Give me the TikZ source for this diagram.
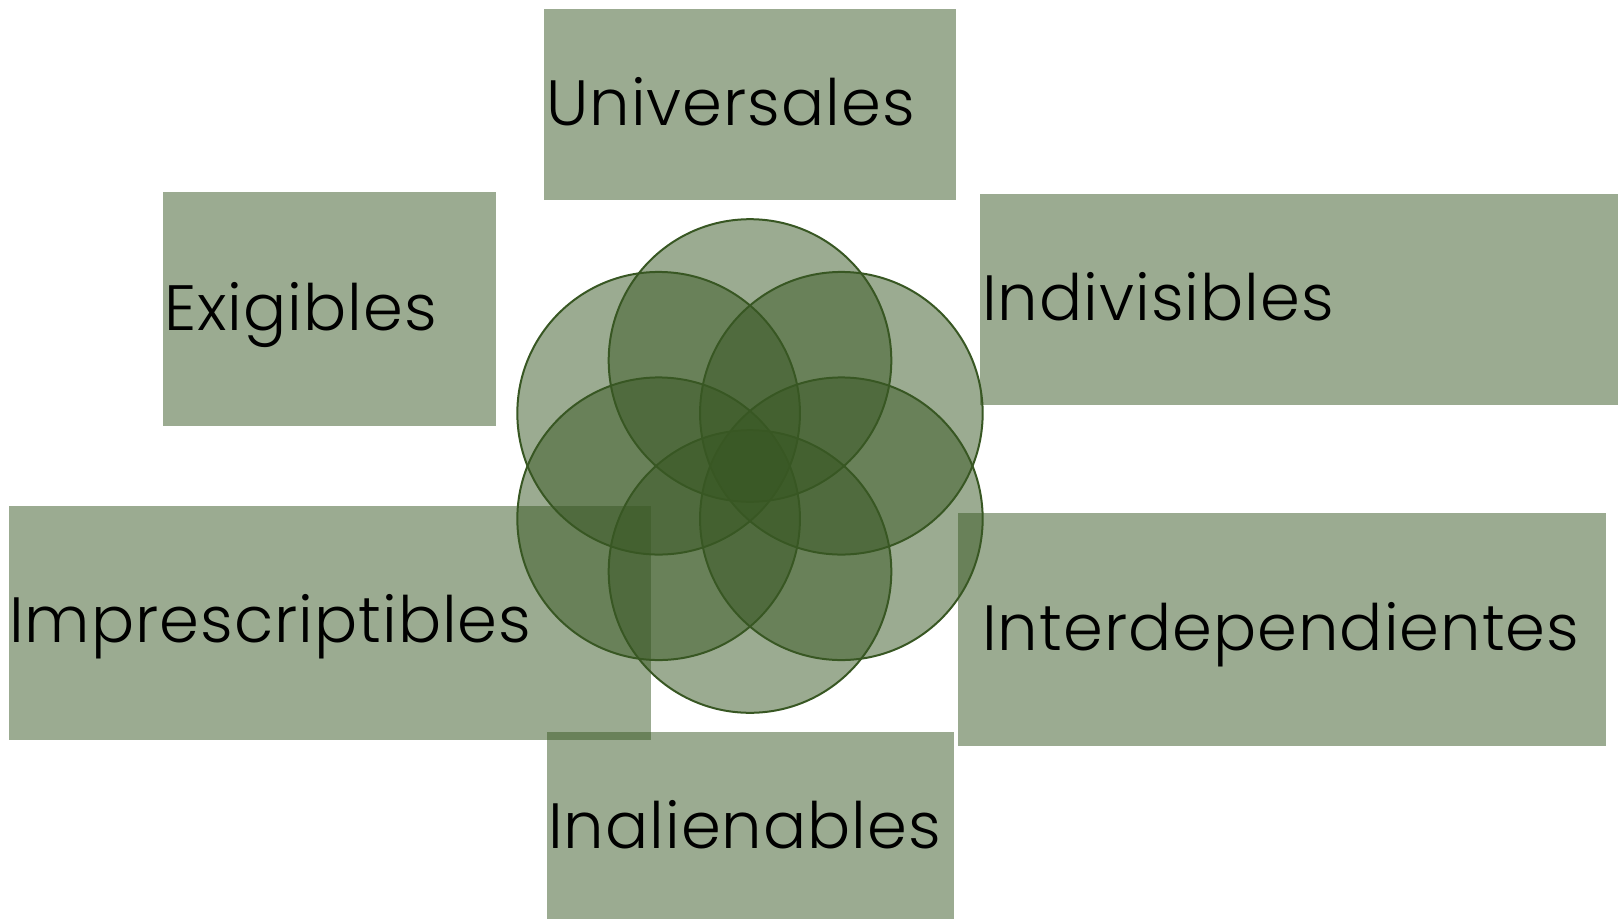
\documentclass[tikz,border=0pt]{standalone}
\usepackage{fontspec}
\setmainfont{Poppins Light}[LetterSpace=1.6]
\usetikzlibrary{calc}
\definecolor{leaf}{RGB}{56,87,35}
\tikzset{
  box/.style={fill=leaf, fill opacity=0.5, draw=none},
  petal/.style={fill=leaf, fill opacity=0.5, draw=leaf, draw opacity=1, line width=2pt},
  lbl/.style={anchor=base west, inner sep=0pt, text=black, font=\fontsize{64}{70}\selectfont}
}
\begin{document}
\begin{tikzpicture}[x=1pt,y=-1pt]
\useasboundingbox (0,0) rectangle (1618,919);
% boxes
\path[box] (544,9) rectangle (956,200);
\path[box] (163,192) rectangle (496,426);
\path[box] (980,194) rectangle (1618,405);
\path[box] (9,506) rectangle (651,740);
\path[box] (958,513) rectangle (1606,746);
\path[box] (547,732) rectangle (954,919);
% petals
\coordinate (c) at (750,466);
\foreach \a/\n in {90/p1,150/p2,210/p3,270/p4,330/p5,30/p6}{
  \draw[petal] ($(c)+(\a:105.5)$) circle[radius=141.3];
}
% labels
\node[lbl] (u) at (546,125) {Universales};
\node[lbl] (e) at (164,330) {Exigibles};
\node[lbl] (d) at (982,320) {Indivisibles};
\node[lbl] (m) at (9,642) {Imprescriptibles};
\node[lbl] (t) at (982,650) {Interdependientes};
\node[lbl] (n) at (548,848) {Inalienables};
\end{tikzpicture}
\end{document}
